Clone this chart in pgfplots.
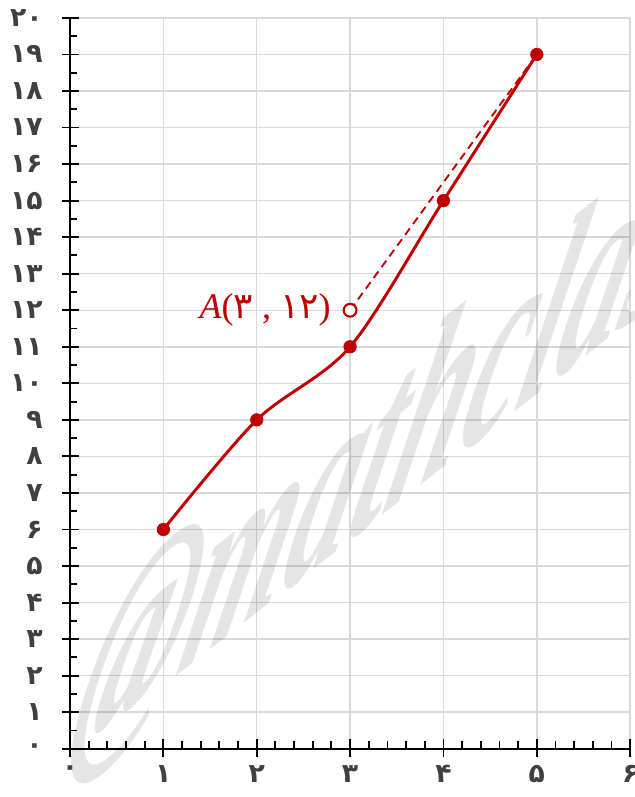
\documentclass[border=0pt]{standalone}
\usepackage{pgfplots}
\pgfplotsset{compat=1.18}
\usepackage{fontspec}
\setmainfont{DejaVu Sans}
\newfontfamily\fa{DejaVu Sans}
\newfontfamily\lserif{Liberation Serif}
\definecolor{cred}{HTML}{C00000}
\definecolor{gridc}{HTML}{D9D9D9}
\definecolor{labc}{HTML}{404040}
\begin{document}
\begin{tikzpicture}
\begin{axis}[
  scale only axis, width=420pt, height=548pt,
  xmin=0, xmax=6, ymin=0, ymax=20,
  axis lines=left,
  axis line style={black, line width=1.5pt, -},
  clip=false,
  xtick={0,1,2,3,4,5,6},
  ytick={0,1,...,20},
  xticklabels={۰,۱,۲,۳,۴,۵,۶},
  yticklabels={۰,۱,۲,۳,۴,۵,۶,۷,۸,۹,۱۰,۱۱,۱۲,۱۳,۱۴,۱۵,۱۶,۱۷,۱۸,۱۹,۲۰},
  minor x tick num=4, minor y tick num=1,
  grid=major, major grid style={gridc, line width=1.1pt},
  tick align=inside,
  major tick length=13pt, minor tick length=5.5pt,
  tick style={black, line width=1.4pt},
  major x tick style={yshift=-6pt},
  major y tick style={xshift=-6pt},
  yticklabel style={font=\fa\bfseries\fontsize{20}{22}\selectfont, text=labc, xshift=-17pt},
  xticklabel style={font=\fa\bfseries\fontsize{20}{22}\selectfont, text=labc, yshift=-9pt},
]
\node[anchor=base west, text=black, opacity=0.1, font=\lserif\bfseries\itshape\fontsize{62}{62}\selectfont, cm={1.6,1.25,0.9,3.3,(0,0)}] at (axis cs:-0.15,-0.6) {@mathclass};
\addplot[cred, dash pattern=on 6pt off 4pt, line width=1.4pt] coordinates {(3,12) (5,19)};
\addplot[cred, line width=2.2pt, smooth, mark=*, mark size=4.7pt, mark options={solid, fill=cred, line width=0.5pt}] coordinates {(1,6) (2,9) (3,11) (4,15) (5,19)};
\addplot[only marks, mark=*, mark size=4.8pt, mark options={draw=cred, fill=white, line width=1.6pt}] coordinates {(3,12)};
\node[anchor=east, text=cred, font=\fontsize{27}{30}\selectfont, xshift=-11pt] at (axis cs:3,12) {{\lserif\itshape A}{\lserif(}{\fa ۳}{\lserif\ , }{\fa ۱۲}{\lserif)}};
\coordinate (bl) at (axis cs:-0.75,-1.32);
\coordinate (tr) at (axis cs:6.043,20.49);
\end{axis}
\pgfresetboundingbox
\useasboundingbox (bl) rectangle (tr);
\end{tikzpicture}
\end{document}
